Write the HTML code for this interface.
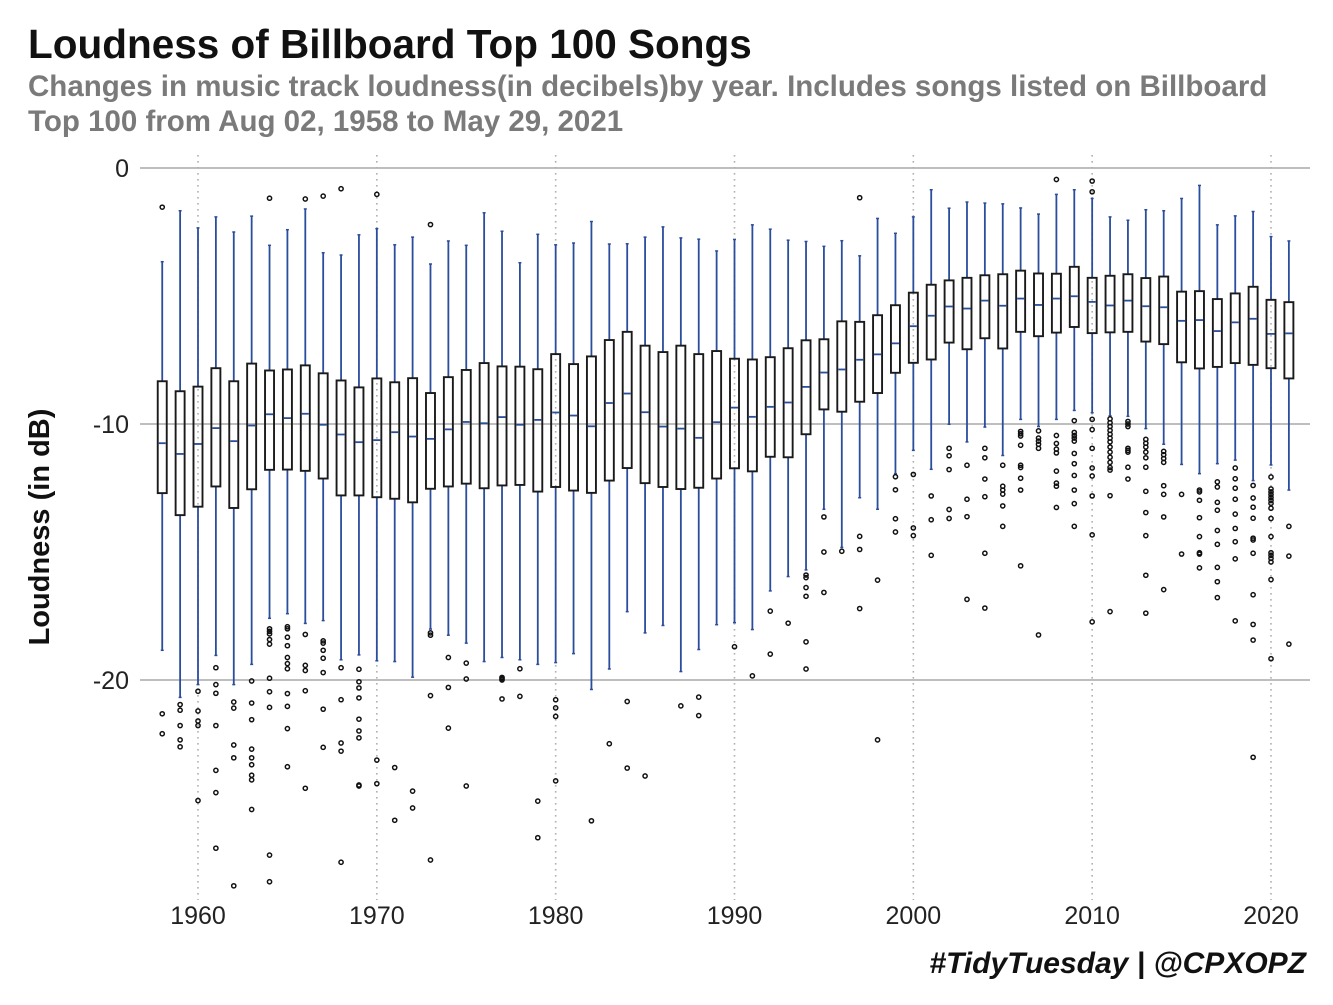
<!DOCTYPE html>
<html><head><meta charset="utf-8">
<style>
html,body{margin:0;padding:0;background:#fff;}
body{width:1333px;height:1000px;overflow:hidden;font-family:"Liberation Sans",Arial,sans-serif;}
</style></head>
<body>
<svg id="chart" width="1333" height="1000" viewBox="0 0 1333 1000" xmlns="http://www.w3.org/2000/svg" font-family="Liberation Sans, Arial, sans-serif">
<text x="28" y="58" font-size="40.5" font-weight="bold" fill="#111">Loudness of Billboard Top 100 Songs</text>
<text x="28" y="96" font-size="29.5" font-weight="bold" fill="#7a7a7a">Changes in music track loudness(in decibels)by year. Includes songs listed on Billboard</text>
<text x="28" y="131" font-size="29.5" font-weight="bold" fill="#7a7a7a">Top 100 from Aug 02, 1958 to May 29, 2021</text>
<text transform="translate(49,527) rotate(-90)" text-anchor="middle" font-size="29" font-weight="bold" fill="#111">Loudness (in dB)</text>
<text x="1306" y="973" text-anchor="end" font-size="30" font-weight="bold" font-style="italic" fill="#111">#TidyTuesday | @CPXOPZ</text>
<g id="grid"></g>
<g id="marks"></g>
<g id="axes"></g>
</svg>
<script>
const years=[];for(let y=1958;y<=2021;y++)years.push(y);
const whiskTop=[-3.66,-1.67,-2.34,-1.91,-2.5,-1.88,-3.02,-2.41,-1.6,-3.31,-3.4,-2.61,-2.37,-3.0,-2.7,-3.75,-2.85,-3.02,-1.75,-2.47,-3.7,-2.59,-3.0,
-2.93,-2.09,-2.97,-2.96,-2.7,-2.3,-2.73,-2.78,-3.24,-2.79,-2.22,-2.39,-2.82,-2.87,-3.06,-2.84,-3.43,-1.97,-2.55,-1.91,
-0.85,-1.57,-1.33,-1.37,-1.4,-1.56,-1.8,-1.03,-0.85,-1.19,-1.91,-2.04,-1.63,-1.67,-1.19,-0.68,-2.22,-1.87,-1.7,-2.68,-2.85];
const q3=[-8.33,-8.72,-8.54,-7.82,-8.33,-7.64,-7.91,-7.87,-7.71,-8.02,-8.3,-8.57,-8.22,-8.37,-8.21,-8.79,-8.17,-7.89,-7.62,-7.75,-7.76,-7.86,-7.27,
-7.66,-7.36,-6.72,-6.4,-6.94,-7.19,-6.94,-7.27,-7.15,-7.45,-7.48,-7.39,-7.04,-6.73,-6.69,-5.99,-6.01,-5.75,-5.36,-4.87,
-4.56,-4.39,-4.29,-4.19,-4.15,-4.01,-4.12,-4.13,-3.86,-4.29,-4.21,-4.15,-4.3,-4.24,-4.83,-4.81,-5.12,-4.9,-4.64,-5.15,-5.24];
const med=[-10.75,-11.17,-10.78,-10.16,-10.67,-10.06,-9.62,-9.77,-9.6,-10.03,-10.41,-10.71,-10.63,-10.32,-10.49,-10.58,-10.21,-9.92,-9.97,-9.73,-10.03,-9.84,-9.55,
-9.67,-10.09,-9.18,-8.81,-9.54,-10.1,-10.18,-10.54,-9.93,-9.36,-9.72,-9.33,-9.16,-8.55,-7.99,-7.87,-7.49,-7.28,-6.85,-6.18,
-5.77,-5.41,-5.49,-5.18,-5.38,-5.1,-5.35,-5.1,-5.01,-5.23,-5.37,-5.18,-5.4,-5.44,-5.97,-5.94,-6.37,-6.03,-5.89,-6.48,-6.46];
const q1=[-12.7,-13.56,-13.23,-12.44,-13.28,-12.55,-11.79,-11.78,-11.83,-12.13,-12.79,-12.79,-12.86,-12.92,-13.06,-12.53,-12.44,-12.33,-12.51,-12.4,-12.38,-12.64,-12.46,
-12.6,-12.69,-12.21,-11.72,-12.31,-12.46,-12.54,-12.49,-12.13,-11.73,-11.85,-11.28,-11.3,-10.4,-9.43,-9.52,-9.13,-8.79,-8.0,-7.61,
-7.48,-6.82,-7.08,-6.65,-7.05,-6.4,-6.57,-6.43,-6.21,-6.45,-6.42,-6.4,-6.78,-6.88,-7.59,-7.83,-7.77,-7.62,-7.69,-7.82,-8.22];
const whiskBot=[-18.84,-20.68,-20.18,-19.04,-20.18,-19.39,-17.59,-17.41,-17.79,-17.68,-19.21,-19.02,-19.25,-19.28,-19.89,-18.01,-18.25,-18.56,-19.28,-19.12,-19.21,-19.39,-19.32,
-18.97,-20.37,-19.57,-17.33,-18.16,-17.87,-19.67,-18.81,-17.84,-17.76,-18.03,-16.52,-15.96,-15.7,-13.33,-14.82,-12.88,-13.33,-11.94,-11.03,
-11.77,-10.01,-10.7,-10.12,-11.23,-9.82,-10.1,-9.82,-9.47,-9.56,-9.68,-9.7,-10.18,-10.79,-11.58,-11.94,-11.55,-11.41,-12.21,-11.6,-12.58];
const outliers=[
[-1.53,-21.32,-22.1],
[-20.96,-21.18,-21.78,-22.34,-22.61],
[-20.44,-21.21,-21.6,-21.78,-24.71],
[-19.52,-20.18,-20.52,-21.78,-23.53,-24.4,-26.57],
[-20.86,-21.1,-22.54,-23.04,-28.04],
[-20.04,-20.9,-21.55,-22.7,-23.04,-23.31,-23.72,-23.9,-25.06],
[-1.18,-18.0,-18.1,-18.2,-18.42,-18.6,-19.93,-20.46,-21.07,-26.84,-27.88],
[-17.92,-18.0,-18.33,-18.66,-19.12,-19.36,-19.56,-20.53,-21.03,-21.9,-23.39],
[-1.21,-18.22,-19.43,-19.63,-20.42,-24.23],
[-1.1,-18.47,-18.56,-18.84,-19.15,-19.71,-21.14,-22.63],
[-0.81,-19.52,-20.77,-22.46,-22.78,-27.12],
[-19.58,-20.07,-20.31,-20.7,-21.53,-21.99,-22.26,-24.1,-24.14],
[-1.03,-23.13,-24.05],
[-23.42,-25.48],
[-24.34,-25.0],
[-2.21,-18.16,-18.25,-20.61,-27.03],
[-19.12,-20.29,-21.88],
[-19.34,-19.96,-24.14],
[],
[-19.9,-19.95,-20.0,-20.74],
[-19.56,-20.64],
[-24.73,-26.16],
[-20.77,-21.09,-21.42,-23.94],
[],
[-25.5],
[-22.49],
[-20.84,-23.44],
[-23.75],
[],
[-21.01],
[-20.67,-21.39],
[],
[-18.7],
[-19.84],
[-17.31,-18.99],
[-17.78],
[-15.9,-16.0,-16.39,-16.73,-18.51,-19.57],
[-13.63,-15.0,-16.58],
[-14.97],
[-1.16,-14.39,-14.9,-17.21],
[-16.1,-22.34],
[-12.06,-12.57,-13.7,-14.22],
[-11.97,-14.06,-14.36],
[-12.81,-13.74,-15.13],
[-10.95,-11.24,-11.78,-13.34,-13.69],
[-11.61,-12.94,-13.62,-16.85],
[-10.95,-11.32,-12.15,-12.84,-15.05,-17.19],
[-11.61,-12.43,-12.58,-12.74,-13.2,-14.0],
[-10.29,-10.38,-10.47,-10.83,-11.61,-11.7,-12.12,-12.58,-15.54],
[-10.27,-10.55,-10.67,-10.79,-10.95,-18.24],
[-0.45,-10.45,-10.76,-10.98,-11.13,-11.84,-12.31,-12.43,-13.26],
[-9.87,-10.33,-10.45,-10.55,-10.67,-11.15,-11.55,-12.01,-12.58,-13.11,-14.0],
[-0.51,-0.93,-9.82,-10.22,-10.95,-11.72,-12.03,-12.81,-14.33,-17.73],
[-9.8,-9.95,-10.1,-10.25,-10.4,-10.55,-10.7,-10.9,-11.1,-11.3,-11.5,-11.7,-11.8,-12.8,-17.33],
[-9.9,-10.0,-10.1,-10.95,-11.03,-11.1,-11.69,-12.15],
[-10.6,-10.75,-10.9,-11.1,-11.32,-11.69,-12.63,-13.46,-14.36,-15.91,-17.39],
[-11.07,-11.2,-11.35,-11.5,-12.41,-12.75,-13.63,-16.47],
[-12.75,-15.08],
[-12.58,-12.65,-12.98,-13.66,-14.4,-15.03,-15.08,-15.62],
[-12.26,-12.46,-13.06,-13.37,-14.16,-14.7,-15.6,-16.16,-16.78],
[-11.72,-12.14,-12.51,-12.94,-13.52,-14.08,-14.6,-15.27,-17.69],
[-12.4,-12.89,-13.25,-13.68,-14.46,-14.53,-15.05,-16.67,-17.83,-18.44,-23.02],
[-12.07,-12.54,-12.65,-12.76,-12.87,-12.98,-13.1,-13.29,-13.69,-14.4,-15.03,-15.13,-15.25,-15.39,-16.08,-19.17],
[-14.0,-15.16,-18.6]
];
const yTicks=[0,-10,-20];
const yTickLabels=["0","-10","-20"];
const xTicks=[1960,1970,1980,1990,2000,2010,2020];

const NS="http://www.w3.org/2000/svg";
function xs(yr){return 198+(yr-1960)*(1271-198)/60;}
function ys(v){return 168-v*25.6;}
function mk(tag,attrs,parent){const e=document.createElementNS(NS,tag);for(const k in attrs)e.setAttribute(k,attrs[k]);parent.appendChild(e);return e;}
const grid=document.getElementById('grid'),marks=document.getElementById('marks'),axes=document.getElementById('axes');

yTicks.forEach((t,i)=>{
  const l=mk('line',{x1:140,x2:1310,y1:ys(t),y2:ys(t),stroke:'#a8a8a8','stroke-width':1.6},grid);
  
  
  const tx=mk('text',{x:129,y:ys(t)+9,'text-anchor':'end','font-size':25,fill:'#222'},axes);
  tx.textContent=yTickLabels[i];
  
  
});
xTicks.forEach(t=>{
  const l=mk('line',{x1:xs(t),x2:xs(t),y1:155,y2:900,stroke:'#b0b0b0','stroke-width':1.6,'stroke-dasharray':'1.6 4.4'},grid);
  
  
  const tx=mk('text',{x:xs(t),y:924,'text-anchor':'middle','font-size':25,fill:'#222'},axes);
  tx.textContent=String(t);
  
  
});

const blue='#2a4d9c',bw=9;
years.forEach((yr,i)=>{
  const cx=xs(yr);
  const g=mk('g',{},marks);
  
  
  mk('line',{x1:cx,x2:cx,y1:ys(whiskTop[i]),y2:ys(q3[i]),stroke:blue,'stroke-width':1.8},g);
  mk('line',{x1:cx,x2:cx,y1:ys(q1[i]),y2:ys(whiskBot[i]),stroke:blue,'stroke-width':1.8},g);
  mk('line',{x1:cx-1.5,x2:cx+1.5,y1:ys(whiskTop[i]),y2:ys(whiskTop[i]),stroke:blue,'stroke-width':1.5},g);
  mk('line',{x1:cx-1.5,x2:cx+1.5,y1:ys(whiskBot[i]),y2:ys(whiskBot[i]),stroke:blue,'stroke-width':1.5},g);
  mk('rect',{x:cx-bw/2,y:ys(q3[i]),width:bw,height:ys(q1[i])-ys(q3[i]),fill:'none',stroke:'#1a1a1a','stroke-width':1.9},g);
  mk('line',{x1:cx-bw/2+1,x2:cx+bw/2-1,y1:ys(med[i]),y2:ys(med[i]),stroke:blue,'stroke-width':1.8},g);
  outliers[i].forEach(v=>{
    const c=mk('circle',{cx:cx,cy:ys(v),r:2.1,fill:'none',stroke:'#111','stroke-width':1.5},g);
    
    
  });
});
</script>
</body></html>
